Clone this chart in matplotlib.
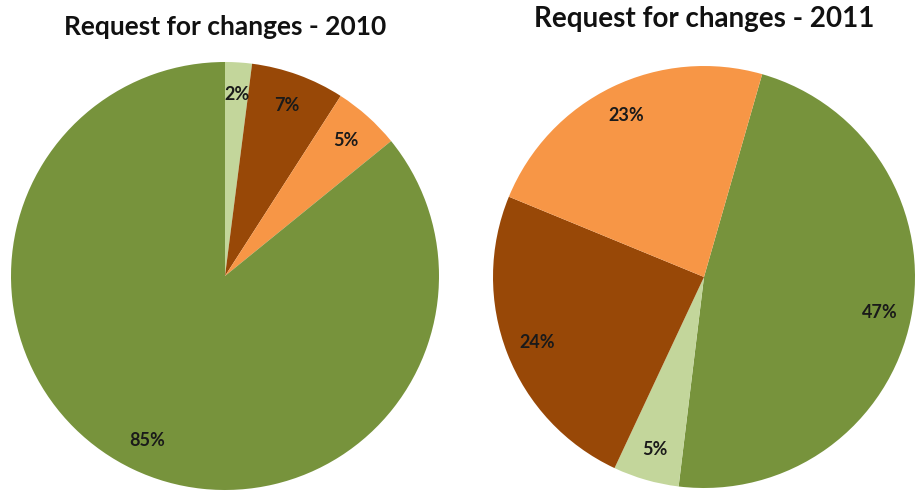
import matplotlib.pyplot as plt

# data (percent shares)
labels_2010 = ["2%", "7%", "5%", "85%"]
values_2010 = [2, 7, 5, 85]
labels_2011 = ["47%", "5%", "24%", "23%"]
values_2011 = [47, 5, 24, 23]

# colours per category
light_green = "#C3D69B"
brown = "#984807"
orange = "#F79646"
green = "#77933C"
colors_2010 = [light_green, brown, orange, green]
colors_2011 = [green, light_green, brown, orange]

W, H = 922, 499
fig = plt.figure(figsize=(W / 100, H / 100), dpi=100)

def draw_pie(box, values, labels, colors, start, title, title_y, title_size):
    ax = fig.add_axes(box)
    wedges, texts = ax.pie(values, labels=labels, colors=colors, startangle=start,
                           counterclock=False, labeldistance=0.85, radius=1,
                           wedgeprops=dict(linewidth=0))
    for t in texts:
        t.set_ha("center")
        t.set_va("center")
        t.set_fontsize(13)
        t.set_fontweight("bold")
        t.set_color("#1a1a1a")
        t.set_family("Lato")
    ax.set_xlim(-1, 1)
    ax.set_ylim(-1, 1)
    ax.set_aspect("equal")
    cx = box[0] + box[2] / 2
    fig.text(cx, title_y, title, ha="center", va="baseline", fontsize=title_size,
             fontweight="bold", family="Lato", color="#111111")
    return ax

# 2010 pie: centre ~ (225, 276), r ~ 214
draw_pie([11 / W, 9 / H, 428 / W, 428 / H], values_2010, labels_2010, colors_2010,
         90, "Request for changes - 2010", 1 - 35 / H, 19)
# 2011 pie: centre ~ (704, 277), r ~ 211
draw_pie([493 / W, 11 / H, 422 / W, 422 / H], values_2011, labels_2011, colors_2011,
         74, "Request for changes - 2011", 1 - 27 / H, 20)

fig.savefig("out.png", dpi=100)
